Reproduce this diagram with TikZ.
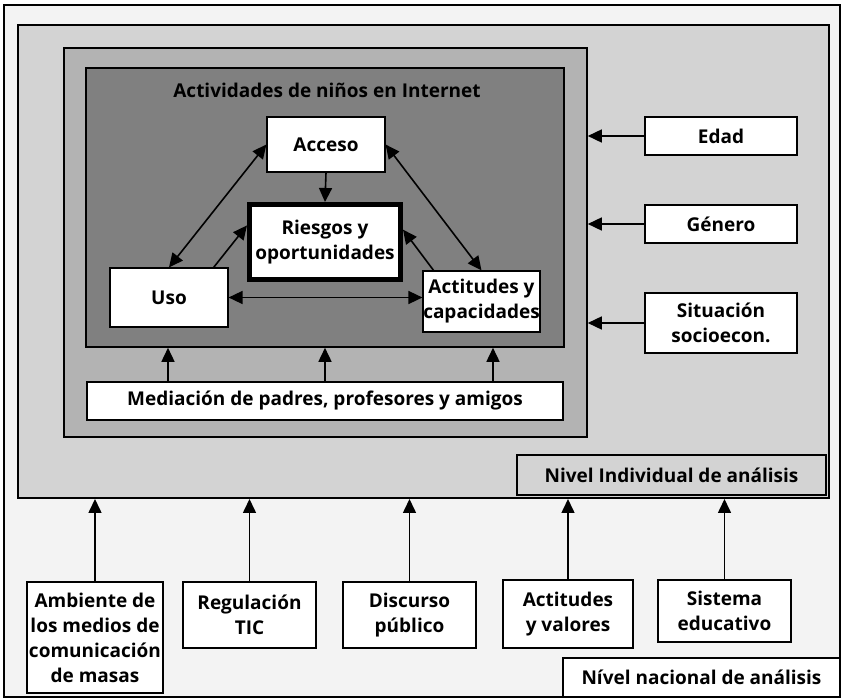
\documentclass[tikz,border=0pt]{standalone}
\usepackage{fontspec}
\setmainfont{Open Sans}
\usetikzlibrary{arrows.meta, positioning}

\definecolor{bgpage}{HTML}{F3F3F3}
\definecolor{bglight}{HTML}{D3D3D3}
\definecolor{bgmid}{HTML}{B3B3B3}
\definecolor{bgdark}{HTML}{808080}

\tikzset{
  area/.style={draw, line width=1.6pt, inner sep=0pt},
  box/.style={draw, fill=white, line width=1.2pt, align=center, inner sep=0pt, font=\bfseries\fontsize{19}{25}\selectfont},
  arr/.style={-{Triangle[length=14pt,width=13pt]}, line width=1.6pt},
  darr/.style={{Triangle[length=14pt,width=13pt]}-{Triangle[length=14pt,width=13pt]}, line width=1.6pt}
}

\begin{document}
\begin{tikzpicture}[x=1pt, y=-1pt]
  \useasboundingbox (0,0) rectangle (844,700);
  % Nested levels of analysis
  \node[area, fill=bgpage, minimum width=836pt, minimum height=692pt] (frame) at (422,351) {};
  \node[area, fill=bglight, line width=2pt, minimum width=811pt, minimum height=473pt] (lightbox) at (423.5,261.5) {};
  \node[area, fill=bgmid, minimum width=523pt, minimum height=389pt] (midbox) at (325.5,242.5) {};
  \node[area, fill=bgdark, minimum width=478pt, minimum height=279pt] (darkbox) at (325,207.5) {};
  \node[font=\bfseries\fontsize{19}{25}\selectfont] (title) at (327,90) {Actividades de niños en Internet};
  % Children's activities
  \node[box, minimum width=118pt, minimum height=55pt] (acceso) at (326,144.5) {Acceso};
  \node[box, line width=5pt, minimum width=151pt, minimum height=75pt] (riesgos) at (325,242) {Riesgos y\\oportunidades};
  \draw[line width=0.8pt] ([shift={(4.5pt,-4.5pt)}]riesgos.north west) rectangle ([shift={(-4.5pt,4.5pt)}]riesgos.south east);
  \node[box, minimum width=118pt, minimum height=59pt] (uso) at (169,297.5) {Uso};
  \node[box, minimum width=117pt, minimum height=61pt] (actitudes) at (481.5,301.5) {Actitudes y\\capacidades};
  \node[box, minimum width=476pt, minimum height=38pt] (mediacion) at (325,401) {Mediación de padres, profesores y amigos};
  % Individual factors
  \node[box, minimum width=152pt, minimum height=38pt] (edad) at (721,136) {Edad};
  \node[box, minimum width=152pt, minimum height=38pt] (genero) at (721,224) {Género};
  \node[box, minimum width=152pt, minimum height=60pt] (situacion) at (721,323) {Situación\\socioecon.};
  \node[box, fill=bglight, line width=1.6pt, minimum width=309pt, minimum height=40pt] (nivelind) at (671.5,475) {Nivel Individual de análisis};
  % National factors
  \node[box, minimum width=136pt, minimum height=111pt] (ambiente) at (95,637.5) {Ambiente de\\los medios de\\comunicación\\de masas};
  \node[box, minimum width=133pt, minimum height=66pt] (regulacion) at (249.5,615) {Regulación\\TIC};
  \node[box, minimum width=133pt, minimum height=66pt] (discurso) at (409.5,615) {Discurso\\público};
  \node[box, minimum width=130pt, minimum height=68pt] (valores) at (568,614) {Actitudes\\y valores};
  \node[box, minimum width=133pt, minimum height=62pt] (sistema) at (724.5,611) {Sistema\\educativo};
  \node[box, minimum width=277pt, minimum height=39pt] (nivelnac) at (701.5,677.5) {Nível nacional de análisis};

  % Links inside the activities box
  \draw[arr] (acceso.south) -- (riesgos.north);
  \draw[darr] (uso.north) -- (acceso.west);
  \draw[arr] (uso.34) -- (riesgos.168);
  \draw[darr] (uso.east) -- (uso.east -| actitudes.west);
  \draw[darr] (acceso.east) -- (actitudes.north);
  \draw[arr] (actitudes.147) -- (riesgos.9);
  % Mediation
  \foreach \x in {168,325,493}
    \draw[arr] (mediacion.north -| \x,0) -- (darkbox.south -| \x,0);
  % Individual factors
  \foreach \n in {edad,genero,situacion}
    \draw[arr] (\n.west) -- (\n.west -| midbox.east);
  % National factors
  \foreach \n in {ambiente,regulacion,discurso,valores,sistema}
    \draw[arr] (\n.north) -- (\n.north |- lightbox.south);
\end{tikzpicture}
\end{document}
